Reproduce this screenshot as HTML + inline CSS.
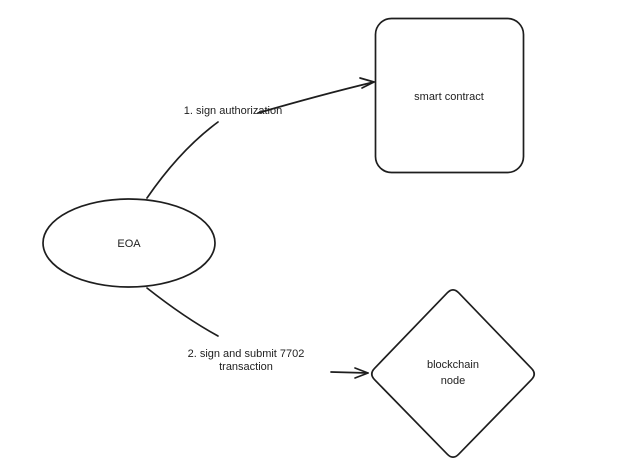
<!DOCTYPE html>
<html><head><meta charset="utf-8"><style>
html,body{margin:0;padding:0;background:#fff;}
svg{display:block;}
text{font-family:"Liberation Sans",sans-serif;font-size:11px;fill:#1e1e1e;}
</style></head><body>
<svg width="631" height="474" viewBox="0 0 631 474" xmlns="http://www.w3.org/2000/svg">
<g fill="none" stroke="#1e1e1e" stroke-width="1.7" stroke-linecap="round" stroke-linejoin="round">
<rect x="375.5" y="18.5" width="148" height="154" rx="16" ry="16"/>
<ellipse cx="129" cy="243" rx="86" ry="44"/>
<path d="M458.6 292.7 L531.4 368.3 Q537 374 531.4 379.7 L458.6 454.3 Q453 460 447.4 454.3 L374.6 379.7 Q369 374 374.6 368.3 L447.4 292.7 Q453 287 458.6 292.7 Z"/>
<path d="M147 198 Q180 150 218 122"/>
<path d="M258 113 Q320 95 374 82"/>
<path d="M360 78 L374 82 L362 88"/>
<path d="M147 288 Q185 318 218 336"/>
<path d="M331 372 L368 373"/>
<path d="M355 368 L368 373 L355 378"/>
</g>
<text x="233" y="114" text-anchor="middle">1. sign authorization</text>
<text x="449" y="100" text-anchor="middle">smart contract</text>
<text x="129" y="247" text-anchor="middle">EOA</text>
<text x="246" y="357" text-anchor="middle">2. sign and submit 7702</text>
<text x="246" y="370" text-anchor="middle">transaction</text>
<text x="453" y="368" text-anchor="middle">blockchain</text>
<text x="453" y="384" text-anchor="middle">node</text>
</svg>
</body></html>
